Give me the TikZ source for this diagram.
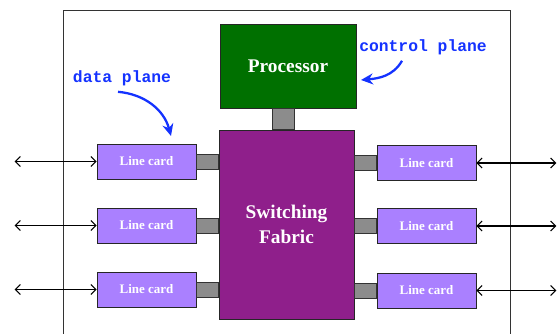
\documentclass[tikz,border=0pt]{standalone}
\usepackage{fontspec}
\setmainfont{Liberation Serif}
\newfontfamily\codefont{Liberation Mono}
\usetikzlibrary{arrows.meta,calc}

\definecolor{procgreen}{RGB}{0,112,0}
\definecolor{fabricpurple}{RGB}{143,31,139}
\definecolor{cardlilac}{RGB}{170,128,255}
\definecolor{linkgray}{RGB}{140,140,140}
\definecolor{noteblue}{RGB}{20,50,255}

\begin{document}
\begin{tikzpicture}[x=1cm,y=1cm,
    unit/.style={draw=black!85,text=white,inner sep=0pt,align=center},
    linecard/.style={unit,fill=cardlilac,minimum width=1.98cm,minimum height=0.70cm,
      font=\fontsize{7.4}{8}\selectfont\bfseries},
    link/.style={draw=black!80,fill=linkgray},
    wire/.style={<->,semithick,>={Straight Barb[length=1mm,width=2mm]}},
    note/.style={text=noteblue,font=\fontsize{9.3}{10}\selectfont\codefont\bfseries},
    notearrow/.style={->,noteblue,line width=1.3pt,>={Stealth[length=2.4mm,width=2.2mm]}}]
  \useasboundingbox (0,0) rectangle (11.16,6.68);
  % router chassis, open at the bottom
  \draw[black!80] (1.26,0)--(1.26,6.48)--(10.2,6.48)--(10.2,0);

  \node[unit,fill=procgreen,minimum width=2.72cm,minimum height=1.68cm,
    font=\fontsize{11}{14}\selectfont\bfseries] (proc) at (5.76,5.36) {Processor};
  \node[unit,fill=fabricpurple,minimum width=2.70cm,minimum height=3.78cm,
    font=\fontsize{11}{14}\selectfont\bfseries] (fabric) at (5.73,2.19) {Switching\\Fabric};
  \draw[link] ($(proc.south west)+(1.06,0)$) rectangle ($(fabric.north west)+(1.52,0)$);

  \node[linecard] (cardL1) at (2.93,3.45) {Line card};
  \node[linecard] (cardL2) at (2.93,2.17) {Line card};
  \node[linecard] (cardL3) at (2.93,0.89) {Line card};
  \node[linecard] (cardR1) at (8.53,3.42) {Line card};
  \node[linecard] (cardR2) at (8.53,2.16) {Line card};
  \node[linecard] (cardR3) at (8.53,0.87) {Line card};

  \foreach \row in {1,2,3} {
    \draw[link] ($(cardL\row.east)+(0,0.15)$) rectangle ($(cardL\row.east -| fabric.west)+(0,-0.15)$);
    \draw[link] ($(cardR\row.west)+(0,0.15)$) rectangle ($(cardR\row.west -| fabric.east)+(0,-0.15)$);
    \coordinate (portL\row) at ($(cardL\row.west)+(-1.64,0)$);
    \coordinate (portR\row) at ($(cardR\row.east)+(1.60,0)$);
    \draw[wire] (portL\row) -- (cardL\row.west);
    \draw[wire] (cardR\row.east) -- (portR\row);
  }

  % plane labels
  \node[note] (dataplane) at (2.44,5.12) {data plane};
  \node[note] (ctrlplane) at (8.46,5.74) {control plane};
  \coordinate (dataTip) at (3.42,3.96);
  \coordinate (ctrlTip) at (7.22,5.08);
  \draw[notearrow] ([xshift=-0.08cm]dataplane.south) to[out=-5,in=105] (dataTip);
  \draw[notearrow] ([xshift=-0.42cm]ctrlplane.south) to[out=-120,in=5] (ctrlTip);
\end{tikzpicture}
\end{document}
